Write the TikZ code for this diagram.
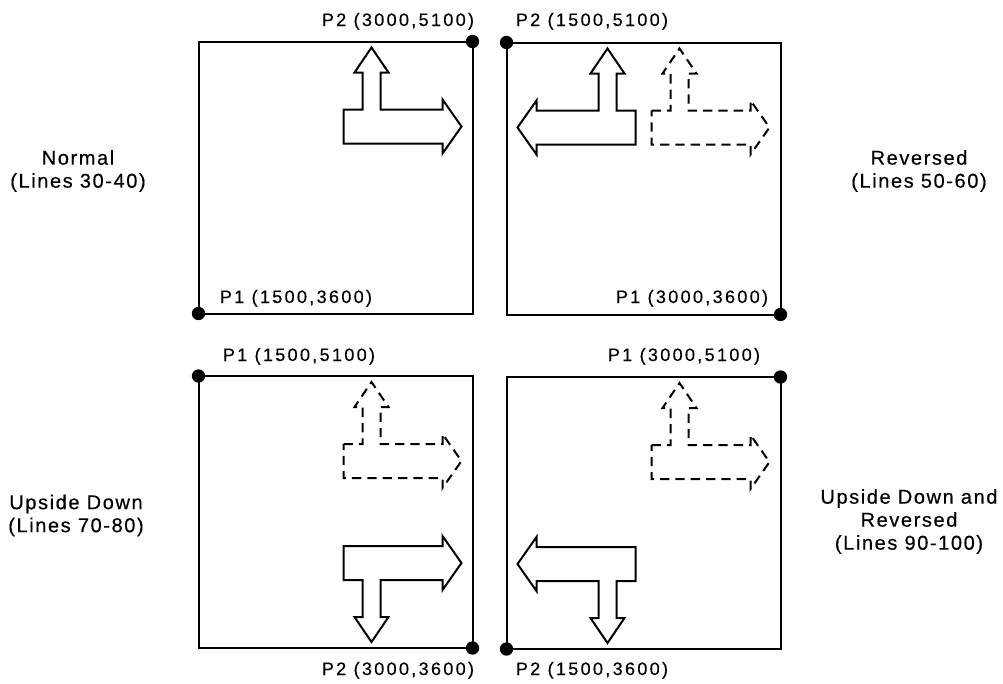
\documentclass[tikz,border=0pt]{standalone}
\usepackage{fontspec}
\setmainfont{Liberation Sans}
\newfontfamily\ptfont{Liberation Sans}[LetterSpace=13, FakeBold=0.4]
\newfontfamily\capfont{Liberation Sans}[LetterSpace=8, FakeBold=0.4]
\usetikzlibrary{positioning}
\tikzset{
  panel/.style    = {draw, line width=1.5pt, rectangle, inner sep=0pt, outer sep=0pt,
                     minimum width=205.5pt, minimum height=204pt},
  corner/.style   = {fill, circle, inner sep=0pt, minimum size=10pt},
  ptlabel/.style  = {font=\ptfont\fontsize{13.5}{16}\selectfont, inner sep=0pt},
  sidelabel/.style= {font=\capfont\fontsize{15}{17.25}\selectfont, align=center, inner sep=0pt},
  ghost/.style    = {dash pattern=on 7pt off 4.5pt},
  tee/.pic = {
    \draw[line width=1.5pt, line join=miter, pic actions]
      (-129,68) -- (-110,68) -- (-110,31) -- (-118,31) -- (-101,6) -- (-84,31)
      -- (-92,31) -- (-92,68) -- (-30,68) -- (-30,58) -- (-11,85) -- (-30,112)
      -- (-30,102) -- (-129,102) -- cycle;
  },
}

\begin{document}
\begin{tikzpicture}[x=0.75pt, y=-0.75pt]
\useasboundingbox (0,0) rectangle (1003,683);
% ---------- panels ----------
\node[panel] (nrm)    at (335.5,177.5) {};
\node[panel] (rev)    at (643.5,178.5) {};
\node[panel] (usd)    at (335.5,512)   {};
\node[panel] (usdrev) at (643.5,513)   {};
% ---------- corner points ----------
\node[corner] (nrmP1)    at (nrm.south west)    {};
\node[corner] (nrmP2)    at (nrm.north east)    {};
\node[corner] (revP1)    at (rev.south east)    {};
\node[corner] (revP2)    at (rev.north west)    {};
\node[corner] (usdP1)    at (usd.north west)    {};
\node[corner] (usdP2)    at (usd.south east)    {};
\node[corner] (usdrevP1) at (usdrev.north east) {};
\node[corner] (usdrevP2) at (usdrev.south west) {};
% ---------- arrows ----------
\pic at (nrm.north east) {tee};
\pic[xscale=-1] at (rev.north west) {tee};
\pic[ghost] at (rev.north east) {tee};
\pic[ghost] at (usd.north east) {tee};
\pic[yscale=-1] at (usd.south east) {tee};
\pic[ghost] at (usdrev.north east) {tee};
\pic[scale=-1] at (usdrev.south west) {tee};
% ---------- point labels ----------
\node[ptlabel, anchor=base] (nrmP2lbl)    at (398,26)  {P2 (3000,5100)};
\node[ptlabel, anchor=base] (revP2lbl)    at (592,26)  {P2 (1500,5100)};
\node[ptlabel, anchor=base] (nrmP1lbl)    at (296,303) {P1 (1500,3600)};
\node[ptlabel, anchor=base] (revP1lbl)    at (692,303) {P1 (3000,3600)};
\node[ptlabel, anchor=base] (usdP1lbl)    at (299,361) {P1 (1500,5100)};
\node[ptlabel, anchor=base] (usdrevP1lbl) at (684,361) {P1 (3000,5100)};
\node[ptlabel, anchor=base] (usdP2lbl)    at (398,675) {P2 (3000,3600)};
\node[ptlabel, anchor=base] (usdrevP2lbl) at (592,675) {P2 (1500,3600)};
% ---------- captions ----------
\node[sidelabel] (nrmcap)    at (78,171)    {Normal\\(Lines 30-40)};
\node[sidelabel] (revcap)    at (919,171)   {Reversed\\(Lines 50-60)};
\node[sidelabel] (usdcap)    at (76,515.5)  {Upside Down\\(Lines 70-80)};
\node[sidelabel] (usdrevcap) at (909,521.5) {Upside Down and\\Reversed\\(Lines 90-100)};
\end{tikzpicture}
\end{document}
